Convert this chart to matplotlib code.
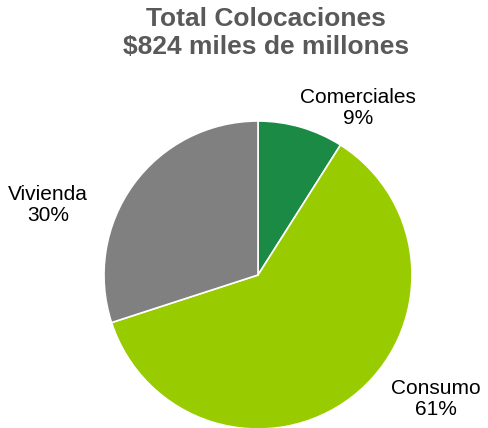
import matplotlib
matplotlib.use("Agg")
import matplotlib.pyplot as plt

# data
categorias = ["Comerciales", "Consumo", "Vivienda"]
porcentajes = [9, 61, 30]
colores = ["#1b8a45", "#99cc00", "#808080"]
titulo = "Total Colocaciones\n$824 miles de millones"

plt.rcParams['font.family'] = ['Liberation Sans', 'DejaVu Sans']

fig = plt.figure(figsize=(4.88, 4.28), dpi=100)
ax = fig.add_axes([0, 0, 1, 1])

ax.pie(porcentajes, colors=colores, startangle=90, counterclock=False,
       center=(258, 153), radius=154,
       wedgeprops=dict(edgecolor='white', linewidth=1.2))

# la pie cambia los limites, se fijan despues
ax.set_xlim(0, 488)
ax.set_ylim(0, 428)
ax.set_aspect('equal')
ax.axis('off')

# etiquetas (posiciones en px desde arriba)
pos = [(358, 108), (436, 399), (48, 205)]
for (x, y), cat, p in zip(pos, categorias, porcentajes):
    ax.text(x, 428 - y, f"{cat}\n{p}%", ha='center', va='center',
            fontsize=15, color='black', linespacing=1.15)

fig.text(266 / 488, 1 - 33 / 428, titulo, ha='center', va='center',
         fontsize=19, fontweight='bold', color='#595959', linespacing=1.2)

fig.savefig("out.png", dpi=100)
